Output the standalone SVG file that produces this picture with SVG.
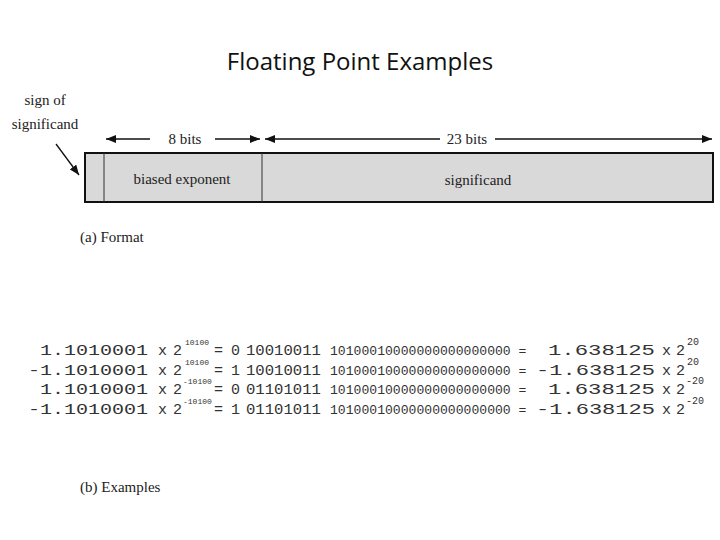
<svg xmlns="http://www.w3.org/2000/svg" width="720" height="540" viewBox="0 0 720 540">
<style>
.s{font-family:"Liberation Serif",serif;font-size:15px;fill:#222}
.m{font-family:"Liberation Mono",monospace;font-size:15px;fill:#333}
.b{font-family:"Liberation Mono",monospace;font-size:13.1px;fill:#333}
.p{font-family:"Liberation Mono",monospace;font-size:10px;fill:#333}
.q{font-family:"Liberation Mono",monospace;font-size:8px;fill:#333}
.ln{stroke:#111;stroke-width:1.3;fill:none}
</style>
<defs><marker id="a" markerWidth="10" markerHeight="8" refX="10" refY="4" orient="auto" markerUnits="userSpaceOnUse"><path d="M0,0L10,4L0,8z" fill="#111"/></marker></defs>
<rect width="720" height="540" fill="#fff"/>
<text x="360" y="70" text-anchor="middle" font-family="Open Sans,sans-serif" font-size="24" fill="#111">Floating Point Examples</text>
<g id="format">
<rect x="85" y="153" width="628" height="49" fill="#d9d9d9" stroke="#111" stroke-width="2"/>
<line x1="104" y1="153" x2="104" y2="202" stroke="#333"/>
<line x1="262" y1="153" x2="262" y2="202" stroke="#333"/>
<text class="s" x="182" y="184" text-anchor="middle">biased exponent</text>
<text class="s" x="478" y="185" text-anchor="middle">significand</text>
</g>
<g id="labels">
<text class="s" x="45" y="105" text-anchor="middle">sign of</text>
<text class="s" x="45" y="129" text-anchor="middle">significand</text>
<text class="s" x="185" y="144" text-anchor="middle">8 bits</text>
<text class="s" x="467" y="144" text-anchor="middle">23 bits</text>
<text class="s" x="80" y="242">(a) Format</text>
<text class="s" x="80" y="492">(b) Examples</text>
</g>
<g id="connectors">
<line class="ln" x1="150" y1="139" x2="106" y2="139" marker-end="url(#a)"/>
<line class="ln" x1="215" y1="139" x2="260" y2="139" marker-end="url(#a)"/>
<line class="ln" x1="440" y1="139" x2="265" y2="139" marker-end="url(#a)"/>
<line class="ln" x1="495" y1="139" x2="712" y2="139" marker-end="url(#a)"/>
<line class="ln" x1="56" y1="144" x2="79" y2="175" marker-end="url(#a)"/>
</g>
<g id="examples" class="m">
<text x="40" y="355" textLength="108" lengthAdjust="spacingAndGlyphs">1.1010001</text>
<text x="28" y="375" textLength="120" lengthAdjust="spacingAndGlyphs">-1.1010001</text>
<text x="40" y="394" textLength="108" lengthAdjust="spacingAndGlyphs">1.1010001</text>
<text x="28" y="414" textLength="120" lengthAdjust="spacingAndGlyphs">-1.1010001</text>
<text x="158" y="355">x</text><text x="158" y="375">x</text><text x="158" y="394">x</text><text x="158" y="414">x</text>
<text x="173" y="355">2</text><text x="173" y="375">2</text><text x="173" y="394">2</text><text x="173" y="414">2</text>
<text x="214" y="355">=</text><text x="214" y="375">=</text><text x="214" y="394">=</text><text x="214" y="414">=</text>
<text x="231" y="355">0</text><text x="231" y="375">1</text><text x="231" y="394">0</text><text x="231" y="414">1</text>
<text x="246" y="355" textLength="75" lengthAdjust="spacingAndGlyphs">10010011</text>
<text x="246" y="375" textLength="75" lengthAdjust="spacingAndGlyphs">10010011</text>
<text x="246" y="394" textLength="75" lengthAdjust="spacingAndGlyphs">01101011</text>
<text x="246" y="414" textLength="75" lengthAdjust="spacingAndGlyphs">01101011</text>
<g class="b">
<text x="330" y="355">10100010000000000000000 =</text>
<text x="330" y="375">10100010000000000000000 =</text>
<text x="330" y="394">10100010000000000000000 =</text>
<text x="330" y="414">10100010000000000000000 =</text>
</g>
<text x="548" y="355" textLength="107" lengthAdjust="spacingAndGlyphs">1.638125</text>
<text x="536" y="375" textLength="119" lengthAdjust="spacingAndGlyphs">-1.638125</text>
<text x="548" y="394" textLength="107" lengthAdjust="spacingAndGlyphs">1.638125</text>
<text x="536" y="414" textLength="119" lengthAdjust="spacingAndGlyphs">-1.638125</text>
<text x="662" y="355">x</text><text x="662" y="375">x</text><text x="662" y="394">x</text><text x="662" y="414">x</text>
<text x="676" y="355">2</text><text x="676" y="375">2</text><text x="676" y="394">2</text><text x="676" y="414">2</text>
<g class="q">
<text x="185" y="345">10100</text>
<text x="185" y="365">10100</text>
<text x="183" y="384">-10100</text>
<text x="183" y="404">-10100</text>
</g>
<g class="p">
<text x="687" y="345">20</text><text x="687" y="365">20</text><text x="686" y="384">-20</text><text x="686" y="404">-20</text>
</g>
</g>
</svg>
